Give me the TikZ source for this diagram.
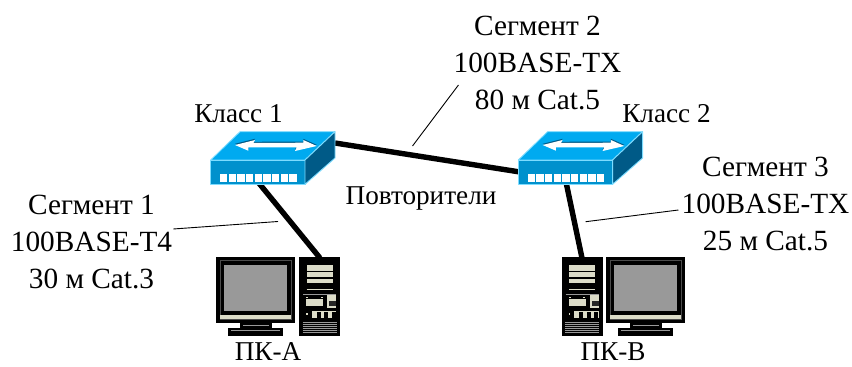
\documentclass[tikz,border=0pt]{standalone}
\usepackage{fontspec}
\setmainfont{Liberation Serif}

\definecolor{swtop}{RGB}{0,170,240}
\definecolor{swfront}{RGB}{0,145,205}
\definecolor{swside}{RGB}{0,90,135}
\definecolor{swedge}{RGB}{125,220,255}
\definecolor{pcbeige}{RGB}{220,220,200}
\definecolor{pcscreen}{RGB}{153,153,153}

\tikzset{
  lbl/.style={font=\fontsize{29.3}{37}\selectfont, align=center, inner sep=0pt},
  lblsmall/.style={font=\fontsize{27.2}{32}\selectfont, inner sep=0pt},
  link/.style={line width=5.4pt},
  leader/.style={line width=0.9pt},
  swface/.style={draw=swedge, line width=0.9pt, line join=round},
}

% Switch icon, #1 = top left corner of the box
\newcommand{\switchicon}[1]{
  \begin{scope}[shift={#1}]
    \fill[swtop, swface] (29.3,0) -- (124.3,0) -- (94.3,28.3) -- (0,28.3) -- cycle;
    \fill[swfront, swface] (0,28.3) -- (94.3,28.3) -- (94.3,52.6) -- (0,52.6) -- cycle;
    \fill[swside, swface] (94.3,28.3) -- (124.3,0) -- (124.3,26.3) -- (94.3,52.6) -- cycle;
    % Shadow of the arrow
    \fill[swside] (24.3,12.1) -- (44.3,7.1) -- (42.6,10.1) -- (92.6,9.8) -- (92.6,7.1) -- (106,13.1)
      -- (84.3,18.1) -- (86,14.4) -- (37.6,14.4) -- (37.6,17.8) -- cycle;
    % Arrow
    \fill[white] (24.3,13.3) -- (44.3,8.3) -- (42.6,11.3) -- (92.6,11) -- (92.6,8.3) -- (106,14.3)
      -- (84.3,19.3) -- (86,15.6) -- (37.6,15.6) -- (37.6,19) -- cycle;
    % Ports
    \foreach \i in {0,...,8}
      \fill[white] ({9.3+8.67*\i},42.3) rectangle ++(7.4,7.7);
  \end{scope}
}

% Monitor icon, #1 = top left corner
\newcommand{\monitoricon}[1]{
  \begin{scope}[shift={#1}]
    \fill[black] (0,0) rectangle (79,66);
    \draw[pcscreen!50!black, line width=0.7pt] (4,3.5) rectangle (75,62);
    \fill[pcscreen] (8,7.7) rectangle (71.3,53.4);
    \fill[pcbeige] (4,57.7) rectangle (74.7,62);
    \fill[black] (24,66) rectangle (56,71);
    \fill[black] (12.3,71) rectangle (66.7,78.7);
    \draw[pcscreen, line width=0.5pt] (27,68) -- (53,68);
    \draw[pcscreen, line width=0.5pt] (15,72.5) -- (64,72.5);
  \end{scope}
}

% Tower icon, #1 = top left corner
\newcommand{\towericon}[1]{
  \begin{scope}[shift={#1}]
    \fill[black] (0,0) rectangle (41,78.7);
    % Drive bays
    \fill[pcbeige] (7.7,7.7) rectangle (33.7,13.3);
    \fill[pcbeige] (7.7,15) rectangle (33.7,20);
    \fill[pcbeige] (7.7,21.3) rectangle (33.7,25.3);
    \draw[pcbeige, line width=0.6pt] (7.7,32) -- (33.7,32);
    \draw[pcscreen, line width=0.5pt] (4,36.7) -- (37,36.7);
    % Floppy
    \fill[pcbeige] (7,42) rectangle (24.3,48.7);
    \fill[pcbeige] (7,39.5) rectangle (9,41);
    \fill[pcbeige] (21.5,39.5) rectangle (23.5,41);
    % Side block
    \fill[pcbeige] (28.3,37.7) rectangle (37,51);
    \fill[black!85] (30.3,43.7) rectangle (37,48.7);
    % Buttons
    \fill[pcbeige] (12.7,53.3) rectangle (37,61);
    \foreach \i in {0,1,2}
      \fill[black] ({17.5+7.5*\i},55) rectangle ++(4,6);
    \fill[pcbeige] (7,56) rectangle (8.7,58);
    % Vents
    \foreach \i in {0,...,5}
      \draw[pcscreen, line width=0.6pt] (3.7,{64.5+2.1*\i}) -- (37.7,{64.5+2.1*\i});
  \end{scope}
}

\begin{document}
\begin{tikzpicture}[x=1pt, y=-1pt]
  \useasboundingbox (0,0) rectangle (852,367);

  % Labels
  \node[lblsmall] (classA) at (238.5,114) {Класс 1};
  \node[lblsmall] (classB) at (666.5,114) {Класс 2};
  \node[lblsmall] (repeaters) at (421,198) {Повторители};
  \node[lblsmall] (pcA) at (268,352) {ПК-А};
  \node[lblsmall] (pcB) at (613,352) {ПК-В};
  \node[lbl] (segA) at (91.5,242) {Сегмент 1\\100BASE-T4\\30 м Cat.3};
  \node[lbl] (segB) at (537.5,63) {Сегмент 2\\100BASE-TX\\80 м Cat.5};
  \node[lbl] (segC) at (765.5,204) {Сегмент 3\\100BASE-TX\\25 м Cat.5};

  % Ends of the cables
  \coordinate (swAright) at (335,143);
  \coordinate (swAdown) at (258,182);
  \coordinate (swBleft) at (520,172);
  \coordinate (swBdown) at (566,182);
  \coordinate (towerA) at (320,258);
  \coordinate (towerB) at (582,258);
  % Free ends of the leaders
  \coordinate (tapA) at (278,221.5);
  \coordinate (tapB) at (412.5,146);
  \coordinate (tapC) at (585.7,221.7);

  % Cables
  \draw[link] (swAright) -- (swBleft);
  \draw[link] (swAdown) -- (towerA);
  \draw[link] (swBdown) -- (towerB);

  % Leaders
  \draw[leader] ([xshift=1pt,yshift=13pt]segA.east) -- (tapA);
  \draw[leader] ([xshift=5pt,yshift=-22pt]segB.west) -- (tapB);
  \draw[leader] ([xshift=-3pt,yshift=-6pt]segC.west) -- (tapC);

  % Switches
  \switchicon{(210.7,131.7)}
  \switchicon{(518.3,131.7)}

  % Computers
  \monitoricon{(216,257.3)}
  \towericon{(299,257.3)}
  \towericon{(561.7,257.3)}
  \monitoricon{(606,257.3)}
\end{tikzpicture}
\end{document}
